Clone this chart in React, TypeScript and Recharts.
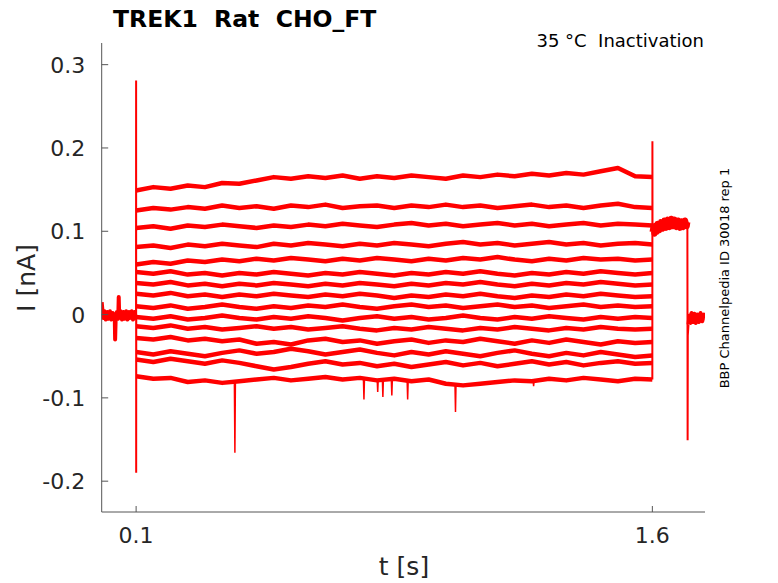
import { LineChart, Line, XAxis, YAxis } from "recharts";

// time points of the test pulse (s)
const plateauTimes = [
  0.1, 0.15, 0.2, 0.25, 0.3, 0.35, 0.4, 0.45, 0.5, 0.55, 0.6, 0.65, 0.7, 0.75, 0.8, 0.85,
  0.9, 0.95, 1.0, 1.05, 1.1, 1.15, 1.2, 1.25, 1.3, 1.35, 1.4, 1.45, 1.5, 1.55, 1.6,
];

// current traces during the pulse (nA), top to bottom
const trace01 = [0.149, 0.153, 0.151, 0.155, 0.153, 0.158, 0.157, 0.161, 0.165, 0.163, 0.166, 0.164, 0.167, 0.163, 0.166, 0.164, 0.167, 0.165, 0.163, 0.167, 0.165, 0.168, 0.166, 0.169, 0.167, 0.170, 0.168, 0.172, 0.176, 0.166, 0.165];
const trace02 = [0.125, 0.128, 0.126, 0.129, 0.127, 0.131, 0.128, 0.130, 0.127, 0.131, 0.129, 0.132, 0.128, 0.130, 0.131, 0.128, 0.131, 0.129, 0.132, 0.129, 0.131, 0.128, 0.130, 0.132, 0.129, 0.131, 0.128, 0.131, 0.133, 0.129, 0.128];
const trace03 = [0.104, 0.106, 0.103, 0.107, 0.105, 0.108, 0.106, 0.104, 0.107, 0.105, 0.108, 0.106, 0.109, 0.107, 0.105, 0.108, 0.110, 0.107, 0.109, 0.106, 0.108, 0.110, 0.107, 0.109, 0.106, 0.108, 0.110, 0.107, 0.109, 0.108, 0.107];
const trace04 = [0.081, 0.083, 0.080, 0.084, 0.082, 0.085, 0.083, 0.081, 0.085, 0.083, 0.086, 0.084, 0.082, 0.085, 0.083, 0.086, 0.084, 0.082, 0.085, 0.087, 0.084, 0.086, 0.083, 0.085, 0.087, 0.084, 0.086, 0.083, 0.085, 0.086, 0.084];
const trace05 = [0.060, 0.063, 0.061, 0.065, 0.063, 0.066, 0.064, 0.067, 0.065, 0.068, 0.066, 0.064, 0.067, 0.065, 0.068, 0.066, 0.064, 0.067, 0.065, 0.068, 0.066, 0.069, 0.066, 0.064, 0.067, 0.065, 0.068, 0.066, 0.067, 0.065, 0.066];
const trace06 = [0.051, 0.049, 0.052, 0.048, 0.050, 0.047, 0.050, 0.048, 0.051, 0.049, 0.047, 0.050, 0.048, 0.051, 0.049, 0.047, 0.050, 0.048, 0.051, 0.049, 0.052, 0.049, 0.047, 0.050, 0.048, 0.051, 0.049, 0.052, 0.050, 0.048, 0.050];
const trace07 = [0.038, 0.036, 0.039, 0.035, 0.037, 0.034, 0.037, 0.035, 0.038, 0.036, 0.034, 0.037, 0.035, 0.038, 0.036, 0.034, 0.037, 0.035, 0.038, 0.036, 0.039, 0.036, 0.034, 0.037, 0.035, 0.038, 0.036, 0.039, 0.037, 0.035, 0.036];
const trace08 = [0.025, 0.023, 0.026, 0.022, 0.024, 0.021, 0.024, 0.022, 0.025, 0.023, 0.021, 0.024, 0.022, 0.025, 0.023, 0.020, 0.023, 0.021, 0.024, 0.022, 0.025, 0.022, 0.020, 0.023, 0.021, 0.024, 0.022, 0.025, 0.023, 0.021, 0.022];
const trace09 = [0.010, 0.008, 0.011, 0.007, 0.009, 0.012, 0.009, 0.007, 0.010, 0.008, 0.011, 0.009, 0.012, 0.009, 0.007, 0.010, 0.012, 0.009, 0.011, 0.008, 0.010, 0.012, 0.009, 0.011, 0.008, 0.010, 0.012, 0.009, 0.011, 0.009, 0.010];
const trace10 = [-0.003, -0.005, -0.002, -0.006, -0.004, -0.001, -0.004, -0.006, -0.003, -0.005, -0.002, -0.004, -0.007, -0.004, -0.002, -0.005, -0.003, -0.006, -0.004, -0.001, -0.004, -0.006, -0.003, -0.005, -0.002, -0.004, -0.006, -0.003, -0.005, -0.003, -0.004];
const trace11 = [-0.014, -0.016, -0.013, -0.017, -0.015, -0.018, -0.016, -0.014, -0.017, -0.015, -0.018, -0.016, -0.014, -0.017, -0.019, -0.016, -0.018, -0.015, -0.017, -0.019, -0.016, -0.018, -0.015, -0.017, -0.019, -0.016, -0.018, -0.015, -0.017, -0.018, -0.017];
const trace12 = [-0.028, -0.030, -0.027, -0.031, -0.029, -0.032, -0.030, -0.035, -0.033, -0.036, -0.031, -0.029, -0.033, -0.031, -0.035, -0.032, -0.030, -0.034, -0.031, -0.033, -0.029, -0.032, -0.035, -0.031, -0.034, -0.030, -0.033, -0.036, -0.032, -0.034, -0.033];
const trace13 = [-0.045, -0.048, -0.044, -0.047, -0.050, -0.046, -0.043, -0.047, -0.045, -0.041, -0.044, -0.048, -0.045, -0.042, -0.046, -0.049, -0.045, -0.048, -0.044, -0.047, -0.050, -0.046, -0.043, -0.047, -0.050, -0.046, -0.049, -0.045, -0.048, -0.051, -0.049];
const trace14 = [-0.054, -0.057, -0.053, -0.056, -0.059, -0.055, -0.058, -0.062, -0.066, -0.063, -0.059, -0.056, -0.060, -0.058, -0.062, -0.059, -0.063, -0.060, -0.057, -0.061, -0.058, -0.062, -0.059, -0.056, -0.060, -0.057, -0.061, -0.058, -0.056, -0.059, -0.058];
const trace15 = [-0.074, -0.077, -0.076, -0.081, -0.079, -0.082, -0.080, -0.078, -0.076, -0.079, -0.077, -0.075, -0.078, -0.076, -0.079, -0.077, -0.080, -0.078, -0.083, -0.085, -0.083, -0.081, -0.079, -0.080, -0.077, -0.079, -0.076, -0.078, -0.080, -0.077, -0.078];

// holding before the pulse (s, nA)
const holdTimes = [0, 0.004, 0.008, 0.012, 0.016, 0.02, 0.024, 0.028, 0.032, 0.036, 0.038, 0.039, 0.0405, 0.044, 0.048, 0.0495, 0.051, 0.055, 0.059, 0.063, 0.067, 0.071, 0.075, 0.079, 0.083, 0.087, 0.091, 0.095, 0.0985, 0.0998];
const holdValues = [0.015, -0.004, 0.004, -0.006, 0.003, -0.005, 0.004, -0.006, 0.002, -0.004, -0.005, -0.030, -0.006, 0.003, -0.005, 0.021, -0.004, 0.004, -0.006, 0.003, -0.005, 0.004, -0.006, 0.003, -0.004, 0.004, -0.006, 0.003, -0.004, -0.001];

// capacitive transient at pulse onset
const onsetTimes = [0.0998, 0.1, 0.1002, 0.1004];
const onsetValues = [-0.001, 0.281, -0.19, 0.0];

// step back at 1.6 s
const offsetTimes = [1.6, 1.6002, 1.6005];
const offsetValues = [-0.078, 0.208, 0.099];

// tail current after the pulse
const tailTimes = [1.6005, 1.603, 1.606, 1.609, 1.612, 1.615, 1.62, 1.625, 1.63, 1.635, 1.64, 1.645, 1.65, 1.655, 1.66, 1.665, 1.67, 1.675, 1.68, 1.685, 1.69, 1.695, 1.7, 1.7018];
const tailValues = [0.099, 0.105, 0.097, 0.107, 0.099, 0.109, 0.101, 0.111, 0.103, 0.113, 0.104, 0.114, 0.105, 0.115, 0.106, 0.114, 0.105, 0.113, 0.104, 0.112, 0.105, 0.113, 0.106, 0.111];

// return to holding
const returnTimes = [1.7018, 1.7025, 1.703, 1.705];
const returnValues = [0.111, -0.151, -0.025, -0.012];
const afterTimes = [1.705, 1.708, 1.711, 1.714, 1.718, 1.722, 1.726, 1.73, 1.735, 1.74, 1.745, 1.75, 1.753];
const afterValues = [-0.012, -0.001, -0.010, 0.002, -0.009, 0.001, -0.010, 0.0, -0.009, 0.002, -0.008, 0.0, -0.005];

// short downward events on the lowest trace
const spikeTimes = [0.387, 0.762, 0.802, 0.817, 0.843, 0.889, 1.028, 1.255];
const spikeTips = [-0.166, -0.102, -0.093, -0.099, -0.097, -0.102, -0.117, -0.086];
const spikeBases = [-0.080, -0.077, -0.078, -0.077, -0.078, -0.079, -0.083, -0.079];

const yTicks = [-0.2, -0.1, 0, 0.1, 0.2, 0.3];
const xTicks = [0.1, 1.6];

const pairs = (ts: number[], vs: number[]) => ts.map((t, i) => ({ t, v: vs[i] }));

const traces = [trace01, trace02, trace03, trace04, trace05, trace06, trace07, trace08, trace09, trace10, trace11, trace12, trace13, trace14, trace15];
const plateauSeries = traces.map((levels) => pairs(plateauTimes, levels));
const holdSeries = pairs(holdTimes, holdValues);
const onsetSeries = pairs(onsetTimes, onsetValues);
const offsetSeries = pairs(offsetTimes, offsetValues);
const tailSeries = pairs(tailTimes, tailValues);
const returnSeries = pairs(returnTimes, returnValues);
const afterSeries = pairs(afterTimes, afterValues);
const spikeSeries = spikeTimes.flatMap((t, i) => [
  { t: t - 0.0015, v: spikeBases[i] },
  { t, v: spikeTips[i] },
  { t: t + 0.0015, v: spikeBases[i] },
  { t: t + 0.002, v: null },
]);

const FONT = "'DejaVu Sans', sans-serif";
const INK = "#262626";
const RED = "#ff0000";

function YTick(props: any) {
  const { x, y, payload } = props;
  return (
    <g>
      <line x1={x} x2={x + 6.5} y1={y} y2={y} stroke="#555" strokeWidth={1} />
      <text x={x - 16.5} y={y + 8} textAnchor="end" fontSize={22} fontFamily={FONT} fill={INK}>
        {String(payload.value)}
      </text>
    </g>
  );
}

function XTick(props: any) {
  const { x, y, payload } = props;
  return (
    <g>
      <line x1={x} x2={x} y1={y} y2={y - 6} stroke="#555" strokeWidth={1} />
      <text x={x} y={y + 31} textAnchor="middle" fontSize={22} fontFamily={FONT} fill={INK}>
        {String(payload.value)}
      </text>
    </g>
  );
}

export default function App() {
  return (
    <div style={{ position: "absolute", left: 0, top: 0, width: 778, height: 583, background: "#fff" }}>
      <LineChart width={778} height={583} margin={{ top: 43, right: 73, bottom: 41, left: 41.7 }}>
        <XAxis
          type="number"
          dataKey="t"
          domain={[0, 1.753]}
          ticks={xTicks}
          allowDataOverflow
          height={30}
          tickSize={0}
          tickMargin={0}
          tickLine={false}
          stroke="#555"
          tick={(p: any) => <XTick {...p} />}
        />
        <YAxis
          type="number"
          domain={[-0.237, 0.326]}
          ticks={yTicks}
          allowDataOverflow
          width={60}
          tickSize={0}
          tickMargin={0}
          tickLine={false}
          stroke="#555"
          tick={(p: any) => <YTick {...p} />}
        />
        <Line data={holdSeries} dataKey="v" stroke={RED} strokeWidth={4} strokeLinejoin="round" dot={false} isAnimationActive={false} />
        <Line data={onsetSeries} dataKey="v" stroke={RED} strokeWidth={2} dot={false} isAnimationActive={false} />
        {plateauSeries.map((series, i) => (
          <Line
            key={i}
            data={series}
            dataKey="v"
            stroke={RED}
            strokeWidth={4.5}
            strokeLinejoin="round"
            dot={false}
            isAnimationActive={false}
          />
        ))}
        <Line data={spikeSeries} dataKey="v" stroke={RED} strokeWidth={1.5} dot={false} connectNulls={false} isAnimationActive={false} />
        <Line data={offsetSeries} dataKey="v" stroke={RED} strokeWidth={2} dot={false} isAnimationActive={false} />
        <Line data={tailSeries} dataKey="v" stroke={RED} strokeWidth={6} strokeLinejoin="round" dot={false} isAnimationActive={false} />
        <Line data={returnSeries} dataKey="v" stroke={RED} strokeWidth={2} dot={false} isAnimationActive={false} />
        <Line data={afterSeries} dataKey="v" stroke={RED} strokeWidth={4} strokeLinejoin="round" dot={false} isAnimationActive={false} />
      </LineChart>
      <svg width={778} height={583} style={{ position: "absolute", left: 0, top: 0, pointerEvents: "none" }}>
        <text x={113} y={27} fontSize={23.5} fontWeight="bold" fontFamily={FONT} fill="#000" style={{ whiteSpace: "pre" }}>
          {"TREK1  Rat  CHO_FT"}
        </text>
        <text x={704} y={47} textAnchor="end" fontSize={18} fontFamily={FONT} fill="#000" style={{ whiteSpace: "pre" }}>
          {"35 °C  Inactivation"}
        </text>
        <text x={404} y={575} textAnchor="middle" fontSize={25} fontFamily={FONT} fill={INK}>
          t [s]
        </text>
        <text x={35} y={278} transform="rotate(-90 35 278)" textAnchor="middle" fontSize={25} fontFamily={FONT} fill={INK}>
          I [nA]
        </text>
        <text x={729} y={278} transform="rotate(-90 729 278)" textAnchor="middle" fontSize={13} fontFamily={FONT} fill="#000">
          BBP Channelpedia ID 30018 rep 1
        </text>
      </svg>
    </div>
  );
}
